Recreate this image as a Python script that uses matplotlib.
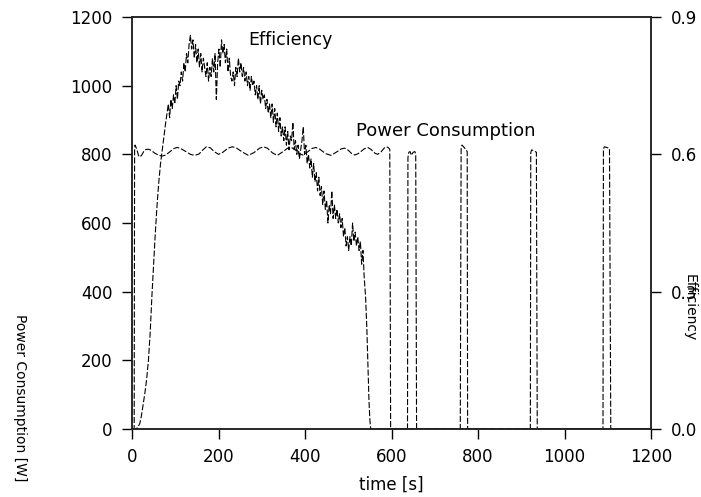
import matplotlib
matplotlib.use("Agg")
import matplotlib.pyplot as plt

# power consumption [W] vs time [s]
power_t = [0, 5, 6, 7, 11, 15, 18, 22, 27, 32, 38, 44, 52, 62, 70, 78, 88, 97, 104, 111,
           122, 135, 145, 155, 163, 172, 181, 190, 200, 210, 222, 232, 242, 256, 269, 282,
           295, 304, 313, 325, 336, 347, 360, 368, 376, 387, 395, 404, 416, 425, 434, 448,
           460, 472, 484, 492, 500, 508, 515, 523, 537, 545, 553, 562, 568, 575, 583, 588,
           592, 596, 598,
           637, 638, 640, 643, 646, 650, 654, 656, 658,
           759, 761, 763, 768, 773, 775, 776,
           921, 922, 924, 930, 935, 937,
           1089, 1090, 1092, 1098, 1104, 1107, 1200]
power_w = [0, 0, 810, 827, 815, 797, 792, 797, 808, 814, 815, 812, 804, 797, 795, 798, 808, 817, 820, 818,
           810, 800, 797, 801, 812, 822, 819, 808, 800, 806, 818, 822, 818, 806, 797, 805,
           818, 822, 818, 804, 797, 806, 818, 820, 815, 802, 798, 805, 817, 820, 815, 802,
           797, 806, 816, 818, 812, 802, 798, 802, 816, 820, 814, 803, 800, 806, 818, 822,
           820, 815, 0,
           0, 790, 806, 808, 797, 806, 808, 800, 0,
           0, 820, 827, 820, 812, 808, 0,
           0, 805, 813, 810, 806, 0,
           0, 815, 822, 820, 817, 0, 0]

# efficiency [-] vs time [s]
eff_t = [0, 10, 14, 18, 22, 26, 30, 34, 38, 42, 46, 50, 54, 58, 62, 66, 70, 74, 78,
         81, 84, 87, 90, 93, 96, 99, 102, 105, 108,
         111, 114, 117, 120, 123, 126, 129, 132, 135, 138,
         141, 144, 147, 150, 153, 156, 159, 162, 165, 168,
         171, 174, 177, 180, 183, 186, 189, 192, 195, 198,
         201, 204, 207, 210, 213, 216, 219, 222, 225, 228,
         231, 234, 237, 240, 243, 246, 249, 252, 255, 258,
         261, 264, 267, 270, 273, 276, 279, 282, 285, 288,
         291, 294, 297, 300, 303, 306, 309, 312, 315, 318,
         321, 324, 327, 330, 333, 336, 339, 342, 345, 348,
         351, 354, 357, 360, 363, 366, 369, 372, 375, 378,
         381, 384, 387, 390, 393, 396, 399, 402, 405, 408,
         411, 414, 417, 420, 423, 426, 429, 432, 435, 438,
         441, 444, 447, 450, 453, 456, 459, 462, 465, 468,
         471, 474, 477, 480, 483, 486, 489, 492, 495, 498,
         501, 504, 507, 510, 513, 516, 519, 522, 525, 528,
         531, 534, 537, 540, 543, 546, 548, 550, 552, 600, 1200]
eff_v = [0, 0, 0.005, 0.012, 0.03, 0.055, 0.08, 0.11, 0.15, 0.21, 0.29, 0.36, 0.43, 0.49, 0.54, 0.58, 0.61, 0.64, 0.67,
         0.69, 0.71, 0.68, 0.72, 0.70, 0.73, 0.71, 0.75, 0.72, 0.76,
         0.75, 0.78, 0.76, 0.80, 0.78, 0.82, 0.80, 0.84, 0.86, 0.83,
         0.85, 0.81, 0.84, 0.80, 0.83, 0.79, 0.82, 0.78, 0.81, 0.79,
         0.77, 0.80, 0.76, 0.79, 0.77, 0.81, 0.78, 0.82, 0.72, 0.80,
         0.83, 0.79, 0.85, 0.82, 0.84, 0.80, 0.83, 0.78, 0.81, 0.77,
         0.76, 0.78, 0.75, 0.79, 0.77, 0.81, 0.78, 0.80, 0.77, 0.79,
         0.76, 0.78, 0.75, 0.77, 0.74, 0.77, 0.75, 0.76, 0.73, 0.75,
         0.72, 0.75, 0.71, 0.74, 0.72, 0.73, 0.70, 0.72, 0.69, 0.71,
         0.68, 0.71, 0.67, 0.70, 0.66, 0.69, 0.65, 0.68, 0.64, 0.66,
         0.63, 0.66, 0.62, 0.65, 0.61, 0.64, 0.63, 0.67, 0.61, 0.63,
         0.60, 0.62, 0.59, 0.61, 0.63, 0.66, 0.60, 0.62, 0.58, 0.60,
         0.57, 0.59, 0.55, 0.58, 0.54, 0.56, 0.52, 0.55, 0.51, 0.53,
         0.49, 0.52, 0.48, 0.50, 0.45, 0.49, 0.47, 0.52, 0.46, 0.49,
         0.46, 0.48, 0.45, 0.47, 0.44, 0.46, 0.42, 0.44, 0.40, 0.42,
         0.39, 0.42, 0.40, 0.45, 0.41, 0.43, 0.40, 0.42, 0.39, 0.41,
         0.36, 0.39, 0.33, 0.29, 0.22, 0.12, 0.06, 0.02, 0.0, 0.0, 0.0]

x_ticks = [0, 200, 400, 600, 800, 1000, 1200]
power_ticks = [0, 200, 400, 600, 800, 1000, 1200]
eff_ticks = [0.0, 0.3, 0.6, 0.9]

plt.rcParams['font.family'] = ['DejaVu Sans']
dash = (0, (5.5, 1.8))

fig = plt.figure(figsize=(7.01, 4.97), dpi=100)
ax = fig.add_axes([132 / 701, 1 - 429 / 497, 519 / 701, 412 / 497])
ax2 = ax.twinx()

ax.plot(power_t, power_w, color='black', lw=0.8, linestyle=dash)
ax2.plot(eff_t, eff_v, color='black', lw=0.8, linestyle=dash)

ax.set_xlim(0, 1200)
ax.set_ylim(0, 1200)
ax2.set_ylim(0, 0.9)
ax.set_xticks(x_ticks)
ax.set_yticks(power_ticks)
ax2.set_yticks(eff_ticks)
ax2.set_yticklabels([f"{v:.1f}" for v in eff_ticks])

for a in (ax, ax2):
    a.tick_params(direction='out', length=7, width=1, labelsize=12, pad=7, colors='black')
    for s in a.spines.values():
        s.set_linewidth(1.1)
        s.set_color('#222222')

ax.text(268, 1133, "Efficiency", fontsize=12.5, ha='left', va='center')
ax.text(518, 869, "Power Consumption", fontsize=13, ha='left', va='center')

ax.set_xlabel("time [s]", fontsize=12, va='center')
ax.xaxis.set_label_coords(0.5, -0.135)
ax.set_ylabel("Power Consumption [W]", fontsize=10, rotation=270, ha='center', va='center')
ax.yaxis.set_label_coords(-0.216, 0.075)
ax2.set_ylabel("Efficiency", fontsize=10, rotation=270, ha='center', va='center')
ax2.yaxis.set_label_coords(1.075, 0.295)

fig.savefig("out.png", dpi=100)
